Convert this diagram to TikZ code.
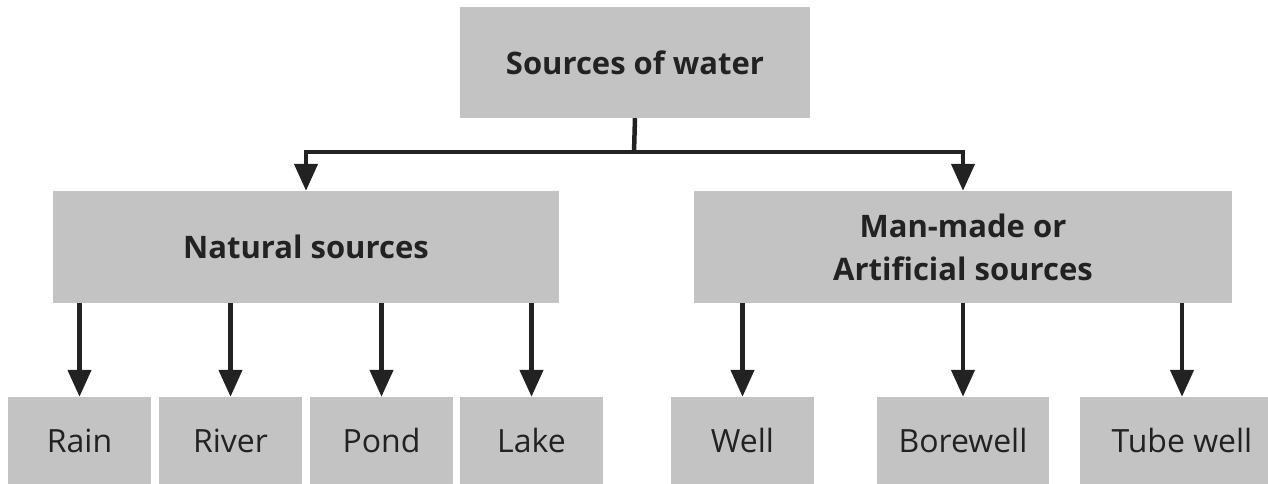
\documentclass[tikz,border=0pt]{standalone}
\usepackage{fontspec}
\setmainfont{Open Sans}
\usetikzlibrary{arrows.meta}
\definecolor{boxgray}{HTML}{C3C3C3}
\definecolor{ink}{HTML}{222222}
\tikzset{
  box/.style={fill=boxgray, draw=none, inner sep=0pt, text=ink},
  head/.style={font=\fontsize{31}{43}\selectfont\bfseries, align=center},
  leaf/.style={font=\fontsize{32}{38}\selectfont},
  conn/.style={draw=ink, line width=4.5pt},
  arr/.style={conn, -{Triangle[width=23pt,length=27pt]}}
}
\begin{document}
\begin{tikzpicture}[x=1pt,y=-1pt]
\useasboundingbox (0,0) rectangle (1268,484);
% boxes
\node[box, head, minimum width=350pt, minimum height=111pt] (top) at (635,62.5) {Sources of water};
\node[box, head, minimum width=506pt, minimum height=112pt] (nat) at (306,247) {Natural sources};
\node[box, head, minimum width=538pt, minimum height=112pt] (man) at (963,247) {Man-made or\\Artificial sources};
\node[box, leaf, minimum width=143pt, minimum height=87pt] (rain) at (79.5,440.5) {Rain};
\node[box, leaf, minimum width=143pt, minimum height=87pt] (river) at (230.5,440.5) {River};
\node[box, leaf, minimum width=143pt, minimum height=87pt] (pond) at (381.5,440.5) {Pond};
\node[box, leaf, minimum width=143pt, minimum height=87pt] (lake) at (531.5,440.5) {Lake};
\node[box, leaf, minimum width=143pt, minimum height=87pt] (well) at (742.5,440.5) {Well};
\node[box, leaf, minimum width=172pt, minimum height=87pt] (bore) at (963,440.5) {Borewell};
\node[box, leaf, minimum width=204pt, minimum height=87pt] (tube) at (1182,440.5) {Tube well};
% connectors from top
\coordinate (split) at (634,152);
\draw[conn] (top.south) -- (split);
\draw[arr] (split) -| (nat.north);
\draw[arr] (split) -| (man.north);
% natural leaves
\foreach \n in {rain,river,pond,lake}{
  \draw[arr] (nat.south -| \n.north) -- (\n.north);
}
% man-made leaves
\foreach \n in {well,bore,tube}{
  \draw[arr] (man.south -| \n.north) -- (\n.north);
}
\end{tikzpicture}
\end{document}
